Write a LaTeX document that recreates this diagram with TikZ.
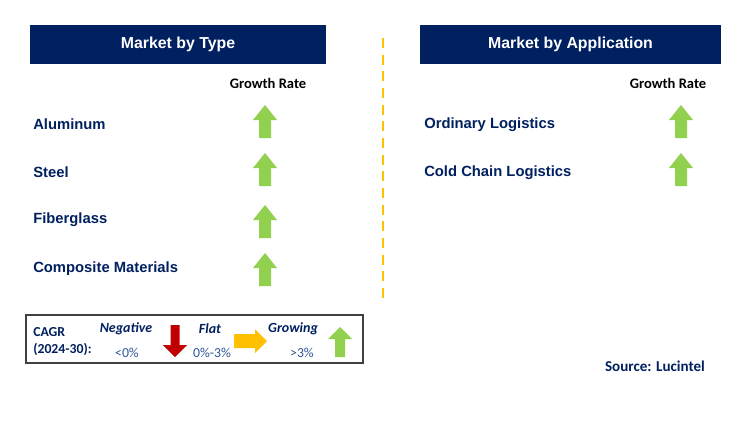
\documentclass[tikz,border=0pt]{standalone}
\usepackage{fontspec}
\setmainfont{Liberation Sans}
\newfontfamily\carl{Carlito}
\definecolor{navy}{HTML}{002060}
\definecolor{lblue}{HTML}{2F5597}
\definecolor{gup}{HTML}{92D050}
\definecolor{rdown}{HTML}{C00000}
\definecolor{oflat}{HTML}{FFC000}
\definecolor{frame}{HTML}{404040}
\tikzset{
  hdr/.style={fill=navy, text=white, font=\bfseries\fontsize{11.9}{13}\selectfont, inner sep=0pt, minimum height=39*0.75pt},
  lbl/.style={anchor=west, text=navy, font=\bfseries\fontsize{11.1}{12}\selectfont, inner sep=0pt},
  gr/.style={text=black, font=\carl\bfseries\fontsize{10.9}{12}\selectfont, inner sep=0pt},
  leg/.style={text=navy, font=\carl\bfseries\fontsize{10.3}{12}\selectfont, inner sep=0pt, anchor=west},
  legi/.style={text=navy, font=\carl\bfseries\itshape\fontsize{10.5}{12}\selectfont, inner sep=0pt},
  legv/.style={text=lblue, font=\carl\fontsize{10.3}{12}\selectfont, inner sep=0pt},
}
\newcommand{\uparr}[3]{% center x, top y, colour
  \fill[#3] (#1,#2) -- (#1+12,#2+15) -- (#1+6,#2+15) -- (#1+6,#2+33) -- (#1-6,#2+33) -- (#1-6,#2+15) -- (#1-12,#2+15) -- cycle;}
\begin{document}
\begin{tikzpicture}[x=0.75pt,y=-0.75pt]
\useasboundingbox[fill=white] (0,0) rectangle (733,421);
% headers
\node[hdr, minimum width=296*0.75pt] (h1) at (178,44.5) {Market by Type};
\node[hdr, minimum width=301*0.75pt] (h2) at (570.5,44.5) {Market by Application};
% divider
\coordinate (d1) at (383,38);
\coordinate (d2) at (383,298);
\draw[oflat, line width=1.5pt, dash pattern=on 7.5pt off 5pt] (d1) -- (d2);
% growth rate titles
\node[gr] (g1) at (268,83.5) {Growth Rate};
\node[gr] (g2) at (668,83.5) {Growth Rate};
% left labels
\node[lbl] (a1) at (33,124.5) {Aluminum};
\node[lbl] (a2) at (33,172.5) {Steel};
\node[lbl] (a3) at (33,219.5) {Fiberglass};
\node[lbl] (a4) at (33,268.5) {Composite Materials};
\uparr{265}{105}{gup}
\uparr{265}{153}{gup}
\uparr{265}{205}{gup}
\uparr{265}{253}{gup}
% right labels
\node[lbl] (b1) at (424,124.5) {Ordinary Logistics};
\node[lbl] (b2) at (424,172.5) {Cold Chain Logistics};
\uparr{681}{105}{gup}
\uparr{681}{153}{gup}
% legend
\draw[frame, line width=0.9pt] (26,315) rectangle (363,363);
\node[leg] (c1) at (33,332) {CAGR};
\node[leg] (c2) at (33,349) {(2024-30):};
\node[legi] (n1) at (126,329) {Negative};
\node[legv] (n2) at (127,352.5) {<0\%};
\fill[rdown] (175,357) -- (187,345) -- (179.5,345) -- (179.5,325) -- (170.5,325) -- (170.5,345) -- (163,345) -- cycle;
\node[legi] (f1) at (210,329) {Flat};
\node[legv] (f2) at (212,352.5) {0\%-3\%};
\fill[oflat] (267,341) -- (255,329) -- (255,334) -- (234,334) -- (234,348) -- (255,348) -- (255,353) -- cycle;
\node[legi] (r1) at (293,329) {Growing};
\node[legv] (r2) at (302,352.5) {>3\%};
\fill[gup] (340,327) -- (352,339) -- (345,339) -- (345,357) -- (335,357) -- (335,339) -- (328,339) -- cycle;
% source
\node[gr, text=navy, font=\carl\bfseries\fontsize{11.3}{12}\selectfont] (s) at (655,366.5) {Source: Lucintel};
\end{tikzpicture}
\end{document}
